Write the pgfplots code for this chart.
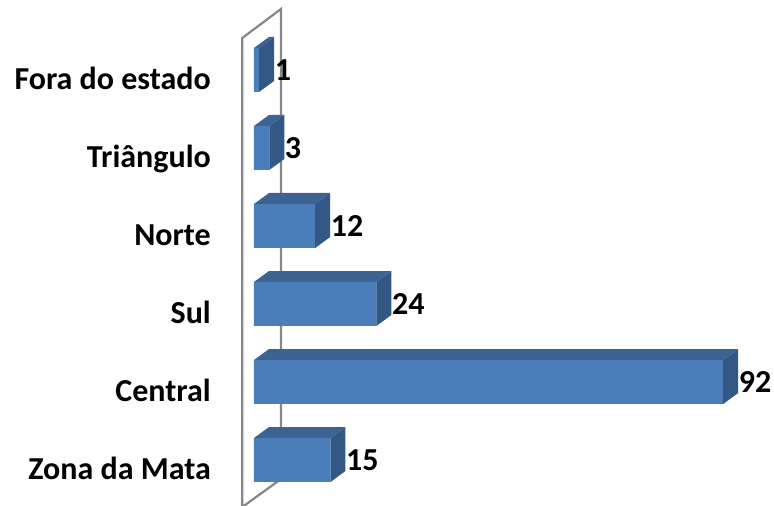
\documentclass[border=0pt]{standalone}
\usepackage{pgfplots}
\pgfplotsset{compat=1.18}
\usepackage{pgfplotstable}
\usepackage{fontspec}
\setmainfont{Carlito}
\definecolor{frontc}{RGB}{74,126,187}
\definecolor{topc}{RGB}{61,99,146}
\definecolor{sidec}{RGB}{52,88,134}
\definecolor{wallc}{RGB}{135,135,135}
\pgfplotstableread{
idx value
0 15
1 92
2 24
3 12
4 3
5 1
}\datatable
\begin{document}
\begin{tikzpicture}
\begin{axis}[
  at={(211pt,0pt)}, anchor=south west,
  scale only axis, width=563pt, height=506pt,
  xmin=-8.431, xmax=101.96,
  ymin=-0.5897, ymax=5.8974,
  clip=false,
  axis line style={draw=none},
  major tick length=0pt,
  xtick=\empty,
  ytick={0,1,2,3,4,5},
  yticklabels={Zona da Mata, Central, Sul, Norte, Triângulo, Fora do estado},
  yticklabel style={anchor=base east, inner sep=0pt, yshift=-19.5pt,
    font=\bfseries\fontsize{32}{32}\selectfont},
  /pgf/number format/assume math mode=true,
]
% side wall
\addplot[draw=wallc, line width=2.2pt, fill=none, forget plot]
  coordinates {(-2.294,5.410) (5.294,5.782) (5.294,-0.244) (-2.294,-0.603)} -- cycle;
% front faces
\addplot[xbar, bar width=0.564, bar shift=0pt, fill=frontc, draw=none,
  nodes near coords,
  every node near coord/.style={anchor=base west, inner sep=0pt,
    xshift=15.5pt, yshift=-10.5pt, text=black,
    font=\bfseries\fontsize{32}{32}\selectfont}]
  table[x=value, y=idx] {\datatable};
% top faces
\addplot[fill=topc, draw=none, forget plot] coordinates {(0,0.282)(15,0.282)(17.941,0.423)(2.941,0.423)} -- cycle;
\addplot[fill=topc, draw=none, forget plot] coordinates {(0,1.282)(92,1.282)(94.941,1.423)(2.941,1.423)} -- cycle;
\addplot[fill=topc, draw=none, forget plot] coordinates {(0,2.282)(24,2.282)(26.941,2.423)(2.941,2.423)} -- cycle;
\addplot[fill=topc, draw=none, forget plot] coordinates {(0,3.282)(12,3.282)(14.941,3.423)(2.941,3.423)} -- cycle;
\addplot[fill=topc, draw=none, forget plot] coordinates {(0,4.282)(3,4.282)(5.941,4.423)(2.941,4.423)} -- cycle;
\addplot[fill=topc, draw=none, forget plot] coordinates {(0,5.282)(1,5.282)(3.941,5.423)(2.941,5.423)} -- cycle;
% side faces
\addplot[fill=sidec, draw=none, forget plot] coordinates {(15,-0.282)(15,0.282)(17.941,0.423)(17.941,-0.141)} -- cycle;
\addplot[fill=sidec, draw=none, forget plot] coordinates {(92,0.718)(92,1.282)(94.941,1.423)(94.941,0.859)} -- cycle;
\addplot[fill=sidec, draw=none, forget plot] coordinates {(24,1.718)(24,2.282)(26.941,2.423)(26.941,1.859)} -- cycle;
\addplot[fill=sidec, draw=none, forget plot] coordinates {(12,2.718)(12,3.282)(14.941,3.423)(14.941,2.859)} -- cycle;
\addplot[fill=sidec, draw=none, forget plot] coordinates {(3,3.718)(3,4.282)(5.941,4.423)(5.941,3.859)} -- cycle;
\addplot[fill=sidec, draw=none, forget plot] coordinates {(1,4.718)(1,5.282)(3.941,5.423)(3.941,4.859)} -- cycle;
\end{axis}
\pgfresetboundingbox
\path (0,0) rectangle (774pt,506pt);
\end{tikzpicture}
\end{document}
